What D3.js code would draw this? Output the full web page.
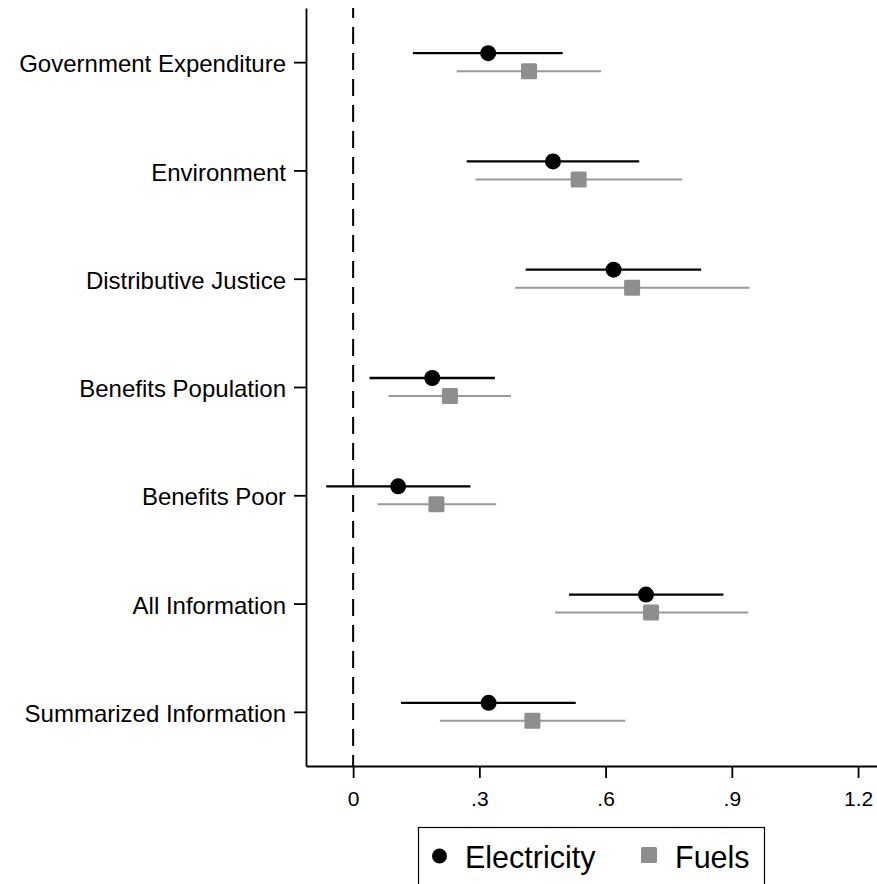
<!DOCTYPE html>
<html>
<head>
<meta charset="utf-8">
<script src="https://cdn.jsdelivr.net/npm/d3@7"></script>
<style>
  body { margin: 0; background: #fff; }
  svg { display: block; font-family: "Liberation Sans", Arial, sans-serif; }
</style>
</head>
<body>
<svg id="chart" width="877" height="884"></svg>
<script>
// Categories, top to bottom
let categories = ["Government Expenditure", "Environment", "Distributive Justice",
  "Benefits Population", "Benefits Poor", "All Information", "Summarized Information"];

// Electricity: point estimate and interval
let elecEst = [0.321, 0.475, 0.619, 0.188, 0.107, 0.696, 0.322];
let elecLo  = [0.142, 0.270, 0.410, 0.039, -0.064, 0.513, 0.114];
let elecHi  = [0.498, 0.680, 0.827, 0.337, 0.279, 0.880, 0.529];

// Fuels: point estimate and interval
let fuelEst = [0.418, 0.536, 0.663, 0.230, 0.198, 0.708, 0.426];
let fuelLo  = [0.246, 0.291, 0.385, 0.084, 0.058, 0.480, 0.206];
let fuelHi  = [0.589, 0.782, 0.942, 0.375, 0.340, 0.939, 0.647];

let xTicks = [0, 0.3, 0.6, 0.9, 1.2];
let xTickLabels = ["0", ".3", ".6", ".9", "1.2"];

let series = [
  { name: "Electricity", est: elecEst, lo: elecLo, hi: elecHi, color: "#000", mark: "circle", off: -9, width: 2.3 },
  { name: "Fuels", est: fuelEst, lo: fuelLo, hi: fuelHi, color: "#8e8e8e", lineColor: "#999", mark: "square", off: 9, width: 2 }
];

let svg = d3.select("#chart");

let plotLeft = 306, plotRight = 877, plotTop = 8, plotBottom = 766;

let x = d3.scaleLinear()
    .domain([-0.112, 1.245])
    .range([plotLeft, plotRight]);

let y = d3.scalePoint()
    .domain(categories)
    .range([plotTop, plotBottom])
    .padding(0.5);

// reference line at zero
svg.append("line")
    .attr("x1", x(0)).attr("x2", x(0))
    .attr("y1", plotTop).attr("y2", plotBottom)
    .attr("stroke", "#000")
    .attr("stroke-width", 2)
    .attr("stroke-dasharray", "17,9")
    .attr("stroke-dashoffset", 7);

// axes
let yAxis = svg.append("g")
    .attr("transform", "translate(" + plotLeft + ",0)")
    .call(d3.axisLeft(y).tickSize(12).tickSizeOuter(0).tickPadding(8));

let xAxis = svg.append("g")
    .attr("transform", "translate(0," + plotBottom + ")")
    .call(d3.axisBottom(x)
        .tickValues(xTicks)
        .tickFormat(function(d, i) { return xTickLabels[i]; })
        .tickSize(12).tickSizeOuter(0).tickPadding(13));

svg.selectAll(".domain, .tick line")
    .attr("stroke", "#000")
    .attr("stroke-width", 1.8);

yAxis.selectAll("text")
    .attr("fill", "#000")
    .attr("dy", "0.4em")
    .style("font-size", "24px")
    .style("font-family", "Liberation Sans, Arial, sans-serif");

xAxis.selectAll("text")
    .attr("fill", "#000")
    .style("font-size", "21px")
    .style("font-family", "Liberation Sans, Arial, sans-serif");

// intervals and markers
for (let s of series) {
  let g = svg.append("g");
  g.selectAll("line")
      .data(categories)
      .enter().append("line")
      .attr("x1", function(d, i) { return x(s.lo[i]); })
      .attr("x2", function(d, i) { return x(s.hi[i]); })
      .attr("y1", function(d) { return y(d) + s.off; })
      .attr("y2", function(d) { return y(d) + s.off; })
      .attr("stroke", s.lineColor || s.color)
      .attr("stroke-width", s.width);

  if (s.mark === "circle") {
    g.selectAll("circle")
        .data(categories)
        .enter().append("circle")
        .attr("cx", function(d, i) { return x(s.est[i]); })
        .attr("cy", function(d) { return y(d) + s.off; })
        .attr("r", 8)
        .attr("fill", s.color);
  } else {
    g.selectAll("rect")
        .data(categories)
        .enter().append("rect")
        .attr("x", function(d, i) { return x(s.est[i]) - 8; })
        .attr("y", function(d) { return y(d) + s.off - 8; })
        .attr("width", 16).attr("height", 16)
        .attr("rx", 1.5)
        .attr("fill", s.color);
  }
}

// legend
let legend = svg.append("g");
legend.append("rect")
    .attr("x", 418.5).attr("y", 827.5)
    .attr("width", 346).attr("height", 80)
    .attr("fill", "none")
    .attr("stroke", "#000")
    .attr("stroke-width", 1.2);

legend.append("circle")
    .attr("cx", 439.5).attr("cy", 856)
    .attr("r", 7.5)
    .attr("fill", series[0].color);
legend.append("text")
    .attr("x", 465).attr("y", 868)
    .text(series[0].name)
    .style("font-size", "30.5px");

legend.append("rect")
    .attr("x", 641).attr("y", 847)
    .attr("width", 16).attr("height", 16)
    .attr("rx", 1.5)
    .attr("fill", series[1].color);
legend.append("text")
    .attr("x", 675).attr("y", 868)
    .text(series[1].name)
    .style("font-size", "30.5px");
</script>
</body>
</html>
